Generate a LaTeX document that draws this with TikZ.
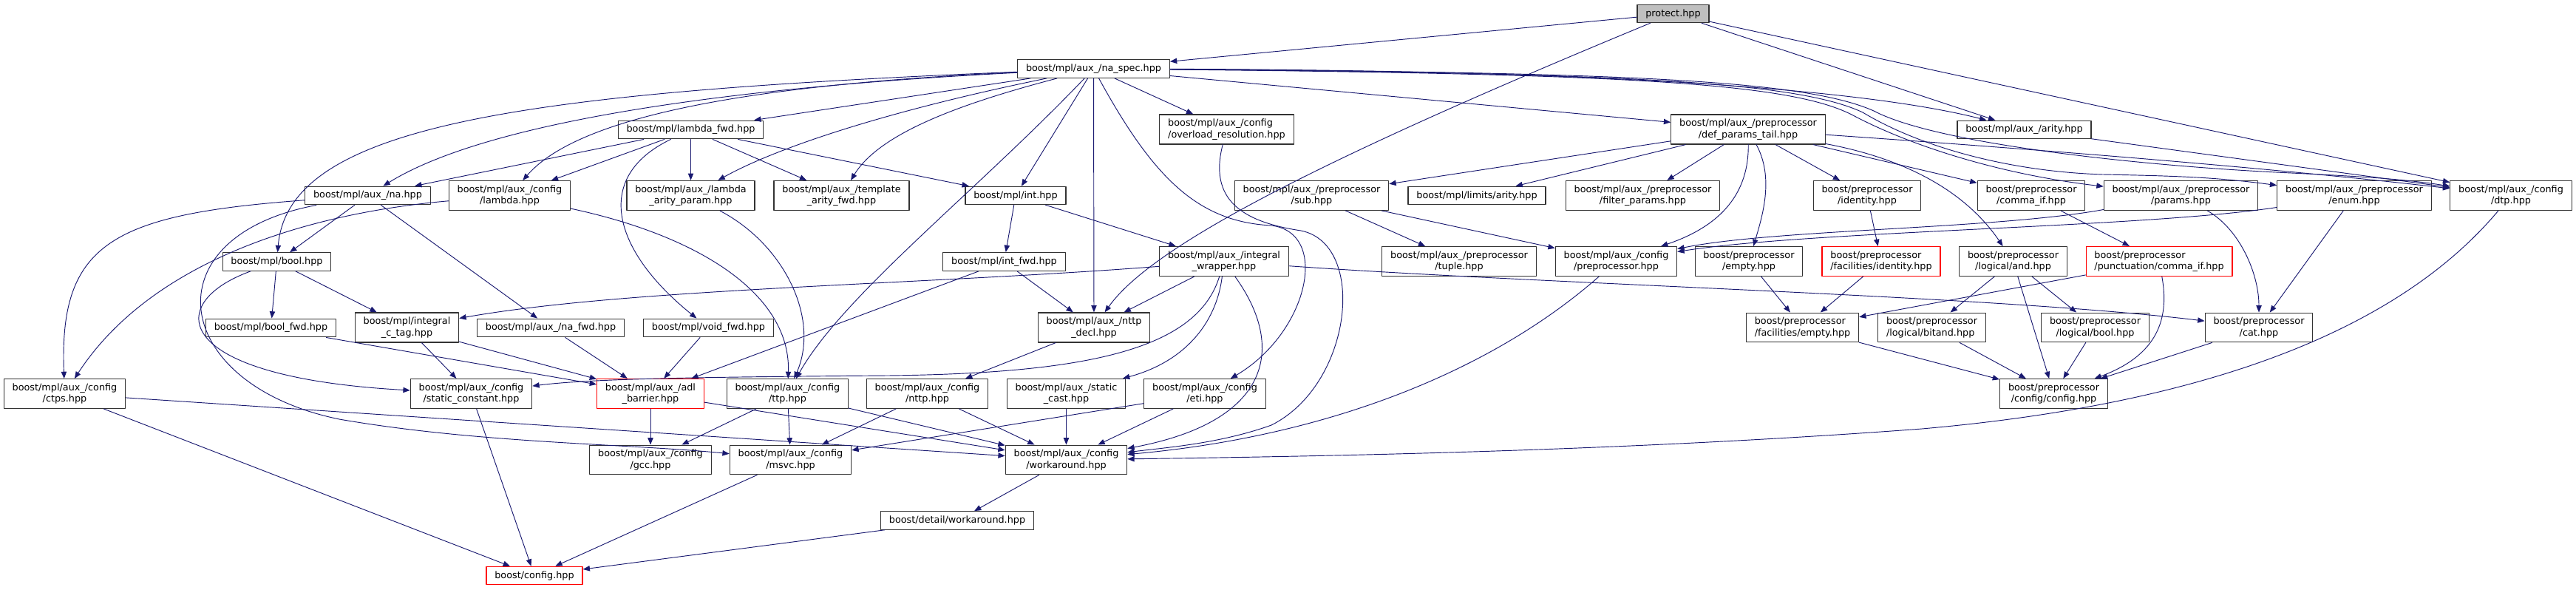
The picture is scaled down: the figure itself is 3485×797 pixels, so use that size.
\documentclass[tikz,border=0pt]{standalone}
\usepackage{fontspec}
\setmainfont{DejaVu Sans}
\usetikzlibrary{arrows.meta}
\definecolor{incblue}{HTML}{191970}
\begin{document}
\begin{tikzpicture}[x=0.75pt,y=-0.75pt,>={Triangle[length=7pt,width=5.5pt]},line join=round,line cap=round,
  font=\fontsize{9.6}{11.5}\selectfont,
  hfile/.style={draw=black!80,line width=0.9pt,fill=white,inner xsep=8.5pt,inner ysep=4.5pt,align=center},
  hfilel/.style={hfile,align=left},
  hcut/.style={hfile,draw=red},
  hcutl/.style={hcut,align=left},
  hroot/.style={hfile,fill=black!25},
  inc/.style={->,draw=incblue,line width=0.7pt}]
\useasboundingbox (0,0) rectangle (3485,797);
%top
\node[hroot] (P) at (2263.5,18.5) {protect.hpp};
\node[hfile] (S) at (1479.5,93) {boost/mpl/aux\_/na\_spec.hpp};
%row 2
\node[hfile] (LF) at (934.5,175.5) {boost/mpl/lambda\_fwd.hpp};
\node[hfilel] (OR) at (1659.5,175) {boost/mpl/aux\_/config\\/overload\_resolution.hpp};
\node[hfile] (DPT) at (2365,175) {boost/mpl/aux\_/preprocessor\\/def\_params\_tail.hpp};
\node[hfile] (AR) at (2738.5,175.5) {boost/mpl/aux\_/arity.hpp};
%row 3
\node[hfile] (NA) at (497.5,264.5) {boost/mpl/aux\_/na.hpp};
\node[hfile] (CL) at (689.5,264.5) {boost/mpl/aux\_/config\\/lambda.hpp};
\node[hfile] (LAP) at (934.5,264.5) {boost/mpl/aux\_/lambda\\\_arity\_param.hpp};
\node[hfile] (TAF) at (1138.5,264.5) {boost/mpl/aux\_/template\\\_arity\_fwd.hpp};
\node[hfile] (INT) at (1374,264.5) {boost/mpl/int.hpp};
\node[hfile] (SUB) at (1774.5,264.5) {boost/mpl/aux\_/preprocessor\\/sub.hpp};
\node[hfile] (LIM) at (1998,264.5) {boost/mpl/limits/arity.hpp};
\node[hfile] (FP) at (2222.5,264.5) {boost/mpl/aux\_/preprocessor\\/filter\_params.hpp};
\node[hfile] (ID) at (2526,264.5) {boost/preprocessor\\/identity.hpp};
\node[hfile] (CI) at (2748,264.5) {boost/preprocessor\\/comma\_if.hpp};
\node[hfile] (PAR) at (2950.5,264.5) {boost/mpl/aux\_/preprocessor\\/params.hpp};
\node[hfile] (EN) at (3185,264.5) {boost/mpl/aux\_/preprocessor\\/enum.hpp};
\node[hfile] (DTP) at (3397,264.5) {boost/mpl/aux\_/config\\/dtp.hpp};
%row 4
\node[hfile] (B) at (374.5,354) {boost/mpl/bool.hpp};
\node[hfile] (IF) at (1358.5,354) {boost/mpl/int\_fwd.hpp};
\node[hfile] (IW) at (1656,353.5) {boost/mpl/aux\_/integral\\\_wrapper.hpp};
\node[hfile] (TUP) at (1974,353.5) {boost/mpl/aux\_/preprocessor\\/tuple.hpp};
\node[hfile] (CPP) at (2186.5,353.5) {boost/mpl/aux\_/config\\/preprocessor.hpp};
\node[hfile] (EM) at (2366,353.5) {boost/preprocessor\\/empty.hpp};
\node[hcutl] (FID) at (2545,353.5) {boost/preprocessor\\/facilities/identity.hpp};
\node[hfile] (AND) at (2723.5,353.5) {boost/preprocessor\\/logical/and.hpp};
\node[hcutl] (PCI) at (2921,353.5) {boost/preprocessor\\/punctuation/comma\_if.hpp};
%row 5
\node[hfile] (BF) at (366.5,443.5) {boost/mpl/bool\_fwd.hpp};
\node[hfile] (ICT) at (550.5,443) {boost/mpl/integral\\\_c\_tag.hpp};
\node[hfile] (NF) at (745,443.5) {boost/mpl/aux\_/na\_fwd.hpp};
\node[hfile] (VF) at (958.5,443.5) {boost/mpl/void\_fwd.hpp};
\node[hfile] (ND) at (1480,443) {boost/mpl/aux\_/nttp\\\_decl.hpp};
\node[hfilel] (FEM) at (2438.5,443) {boost/preprocessor\\/facilities/empty.hpp};
\node[hfilel] (BA) at (2613.5,443) {boost/preprocessor\\/logical/bitand.hpp};
\node[hfile] (LB) at (2834.5,443) {boost/preprocessor\\/logical/bool.hpp};
\node[hfile] (CAT) at (3056,443) {boost/preprocessor\\/cat.hpp};
%row 6
\node[hfile] (CT) at (87.5,532.5) {boost/mpl/aux\_/config\\/ctps.hpp};
\node[hfile] (SC) at (637.5,532.5) {boost/mpl/aux\_/config\\/static\_constant.hpp};
\node[hcut] (ADL) at (880,532.5) {boost/mpl/aux\_/adl\\\_barrier.hpp};
\node[hfile] (TTP) at (1065.5,532.5) {boost/mpl/aux\_/config\\/ttp.hpp};
\node[hfile] (NT) at (1254.5,532.5) {boost/mpl/aux\_/config\\/nttp.hpp};
\node[hfile] (SCA) at (1442.5,532.5) {boost/mpl/aux\_/static\\\_cast.hpp};
\node[hfile] (ETI) at (1630,532.5) {boost/mpl/aux\_/config\\/eti.hpp};
\node[hfile] (PPC) at (2778.5,532.5) {boost/preprocessor\\/config/config.hpp};
%rows 7-9
\node[hfile] (GCC) at (880,622) {boost/mpl/aux\_/config\\/gcc.hpp};
\node[hfile] (MS) at (1069.5,622) {boost/mpl/aux\_/config\\/msvc.hpp};
\node[hfile] (WA) at (1442.5,622) {boost/mpl/aux\_/config\\/workaround.hpp};
\node[hfile] (DW) at (1295,704) {boost/detail/workaround.hpp};
\node[hcut] (BC) at (723,778.5) {boost/config.hpp};
%protect.hpp
\draw[inc] (P) -- (S);
\draw[inc] (P) .. controls (1800,210) and (1560,330) .. (ND);
\draw[inc] (P) -- (AR);
\draw[inc] (P) -- (DTP);
%na_spec.hpp
\draw[inc] (S) -- (LF);
\draw[inc] (S) .. controls (950,120) and (650,170) .. (NA);
\draw[inc] (S) .. controls (1000,115) and (780,160) .. (CL);
\draw[inc] (S) .. controls (700,125) and (390,170) .. (B);
\draw[inc] (S) .. controls (1200,150) and (1050,200) .. (LAP);
\draw[inc] (S) .. controls (1300,140) and (1190,180) .. (TAF);
\draw[inc] (S) .. controls (1320,260) and (1140,400) .. (TTP);
\draw[inc] (S) -- (INT);
\draw[inc] (S) -- (ND);
\draw[inc] (S) .. controls (1560,240) and (1620,300) .. (1720,305) .. controls (1800,315) and (1770,450) .. (ETI);
\draw[inc] (S) -- (OR);
\draw[inc] (S) -- (DPT);
\draw[inc] (S) .. controls (2100,95) and (2500,115) .. (AR);
\draw[inc] (S) .. controls (2200,100) and (2420,112) .. (2505,155) .. controls (2580,195) and (2700,235) .. (PAR);
\draw[inc] (S) .. controls (2200,99) and (2430,110) .. (2520,152) .. controls (2600,200) and (2720,232) .. (2845,236) .. controls (2950,238) and (3000,240) .. (EN);
\draw[inc] (S) .. controls (2200,98) and (2440,108) .. (2535,150) .. controls (2620,195) and (2900,225) .. (3100,234) .. controls (3200,239) and (3250,242) .. (DTP);
%lambda
\draw[inc] (LF) -- (NA);
\draw[inc] (LF) -- (CL);
\draw[inc] (LF) -- (LAP);
\draw[inc] (LF) -- (TAF);
\draw[inc] (LF) -- (INT);
\draw[inc] (LF) .. controls (800,240) and (830,340) .. (VF);
\draw[inc] (CL) .. controls (950,320) and (1070,400) .. (TTP);
\draw[inc] (CL) .. controls (400,290) and (200,360) .. (CT);
\draw[inc] (LAP) .. controls (1060,330) and (1110,430) .. (TTP);
%na, bool
\draw[inc] (NA) -- (B);
\draw[inc] (NA) -- (NF);
\draw[inc] (NA) .. controls (150,290) and (80,330) .. (CT);
\draw[inc] (NA) .. controls (200,320) and (230,520) .. (459,567) .. controls (650,600) and (850,600) .. (MS);
\draw[inc] (B) -- (BF);
\draw[inc] (B) -- (ICT);
\draw[inc] (B) .. controls (220,410) and (230,510) .. (SC);
\draw[inc] (BF) -- (ADL);
\draw[inc] (ICT) -- (ADL);
\draw[inc] (ICT) -- (SC);
\draw[inc] (NF) -- (ADL);
\draw[inc] (VF) -- (ADL);
%int
\draw[inc] (INT) -- (IF);
\draw[inc] (INT) -- (IW);
\draw[inc] (IF) -- (ADL);
\draw[inc] (IF) -- (ND);
\draw[inc] (IW) .. controls (1250,385) and (850,390) .. (ICT);
\draw[inc] (IW) .. controls (1620,470) and (1480,505) .. (1200,508) .. controls (950,510) and (800,512) .. (SC);
\draw[inc] (IW) .. controls (1645,440) and (1600,490) .. (SCA);
\draw[inc] (IW) -- (ND);
\draw[inc] (IW) .. controls (1740,470) and (1720,570) .. (WA);
\draw[inc] (IW) .. controls (2100,385) and (2700,400) .. (CAT);
\draw[inc] (ND) -- (NT);
%config
\draw[inc] (TTP) -- (GCC);
\draw[inc] (TTP) -- (MS);
\draw[inc] (TTP) -- (WA);
\draw[inc] (NT) -- (MS);
\draw[inc] (NT) -- (WA);
\draw[inc] (SCA) -- (WA);
\draw[inc] (ETI) -- (MS);
\draw[inc] (ETI) -- (WA);
\draw[inc] (ADL) -- (GCC);
\draw[inc] (ADL) -- (WA);
\draw[inc] (CT) -- (BC);
\draw[inc] (CT) -- (WA);
\draw[inc] (SC) -- (BC);
\draw[inc] (MS) -- (BC);
\draw[inc] (WA) -- (DW);
\draw[inc] (DW) -- (BC);
\draw[inc] (OR) .. controls (1635,270) and (1680,300) .. (1760,312) .. controls (1850,330) and (1830,520) .. (1720,575) .. controls (1650,600) and (1580,605) .. (WA);
\draw[inc] (AR) -- (DTP);
\draw[inc] (DTP) .. controls (3250,440) and (3000,545) .. (2600,580) .. controls (2200,610) and (1800,617) .. (WA);
\draw[inc] (CPP) .. controls (2020,500) and (1800,590) .. (WA);
%preprocessor
\draw[inc] (DPT) -- (SUB);
\draw[inc] (DPT) -- (LIM);
\draw[inc] (DPT) -- (FP);
\draw[inc] (DPT) .. controls (2366,260) and (2330,305) .. (CPP);
\draw[inc] (DPT) .. controls (2400,240) and (2385,290) .. (EM);
\draw[inc] (DPT) -- (ID);
\draw[inc] (DPT) -- (CI);
\draw[inc] (DPT) .. controls (2580,215) and (2660,260) .. (AND);
\draw[inc] (DPT) .. controls (2800,205) and (3100,230) .. (DTP);
\draw[inc] (SUB) -- (TUP);
\draw[inc] (SUB) -- (CPP);
\draw[inc] (ID) -- (FID);
\draw[inc] (FID) -- (FEM);
\draw[inc] (EM) -- (FEM);
\draw[inc] (CI) -- (PCI);
\draw[inc] (PCI) -- (FEM);
\draw[inc] (PCI) .. controls (2935,430) and (2920,480) .. (PPC);
\draw[inc] (AND) -- (BA);
\draw[inc] (AND) -- (LB);
\draw[inc] (AND) -- (PPC);
\draw[inc] (FEM) -- (PPC);
\draw[inc] (BA) -- (PPC);
\draw[inc] (LB) -- (PPC);
\draw[inc] (CAT) -- (PPC);
\draw[inc] (PAR) .. controls (2700,310) and (2400,310) .. (CPP);
\draw[inc] (EN) .. controls (2900,308) and (2450,312) .. (CPP);
\draw[inc] (PAR) .. controls (3030,310) and (3056,370) .. (CAT);
\draw[inc] (EN) -- (CAT);
\end{tikzpicture}
\end{document}
